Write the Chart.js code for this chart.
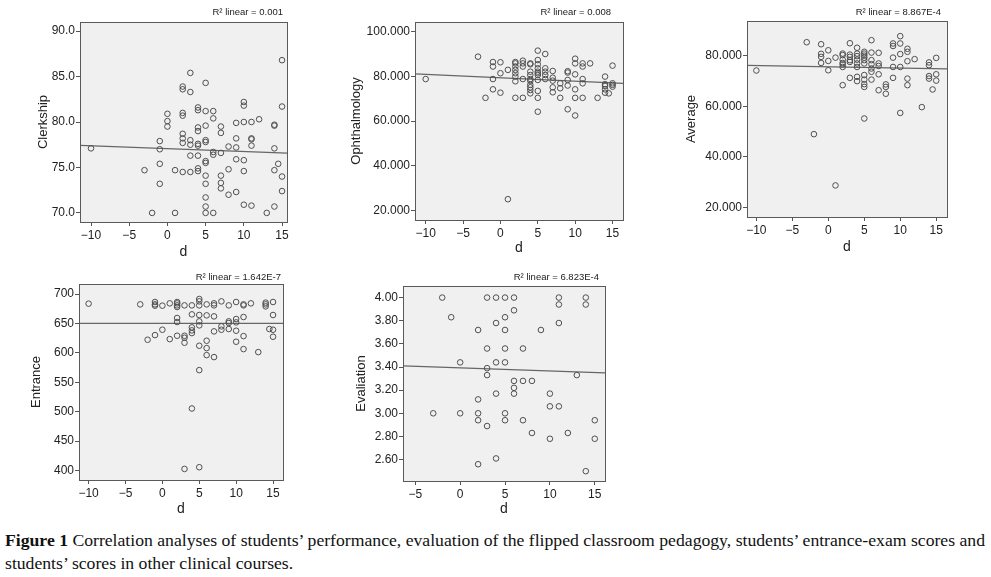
<!DOCTYPE html>
<html>
<head>
<meta charset="utf-8">
<script src="https://cdn.jsdelivr.net/npm/chart.js@4.4.1/dist/chart.umd.min.js"></script>
<style>
  body { margin: 0; background: #fff; width: 991px; height: 577px; overflow: hidden; position: relative; }
  canvas { position: absolute; }
  #caption { position: absolute; left: 5px; top: 529px; font-family: "Liberation Serif", serif; font-size: 16px; line-height: 23px; color: #111; }
  #caption div { white-space: nowrap; height: 23px; }
  #caption span { display: inline-block; transform-origin: 0 0; }
</style>
</head>
<body>
<canvas id="clerkshipChart" width="330" height="262" style="left:0;top:0"></canvas>
<canvas id="ophthalChart" width="330" height="262" style="left:330px;top:0"></canvas>
<canvas id="averageChart" width="331" height="262" style="left:660px;top:0"></canvas>
<canvas id="entranceChart" width="330" height="258" style="left:0;top:262px"></canvas>
<canvas id="evalChart" width="330" height="258" style="left:330px;top:262px"></canvas>
<div id="caption">
  <div><span class="cap"><b>Figure 1</b> Correlation analyses of students’ performance, evaluation of the flipped classroom pedagogy, students’ entrance-exam scores and</span></div>
  <div><span class="cap">students’ scores in other clinical courses.</span></div>
</div>
<script>
// tick labels
const xTicksWide = [-10, -5, 0, 5, 10, 15];
const xTicksEval = [-5, 0, 5, 10, 15];
const clerkshipTicks = [70, 75, 80, 85, 90];
const ophthalTicks = [20, 40, 60, 80, 100];
const averageTicks = [20, 40, 60, 80];
const entranceTicks = [400, 450, 500, 550, 600, 650, 700];
const evalTicks = [2.6, 2.8, 3.0, 3.2, 3.4, 3.6, 3.8, 4.0];

// Clerkship vs d
const clerkshipD = [-10, -3, -2, -1, -1, -1, -1, 0, 0, 0, 1, 1,
  2, 2, 2, 2, 2, 2, 2, 2,
  3, 3, 3, 3, 3, 3,
  4, 4, 4, 4, 4, 4, 4, 4, 4,
  5, 5, 5, 5, 5, 5, 5, 5, 5, 5, 5, 5,
  6, 6, 6, 6, 6,
  7, 7, 7, 7, 7, 7,
  8, 8, 8,
  9, 9, 9, 9, 9,
  10, 10, 10, 10, 10, 10,
  11, 11, 11, 11, 11,
  12, 13,
  14, 14, 14, 14, 14, 14.5,
  15, 15, 15, 15];
const clerkshipScore = [77.1, 74.7, 70.0, 77.9, 77.0, 75.4, 73.2, 80.9, 80.1, 79.5, 74.7, 70.0,
  83.9, 83.6, 81.0, 80.7, 78.7, 78.2, 77.7, 74.5,
  85.4, 83.3, 78.0, 77.5, 76.3, 74.5,
  81.6, 81.3, 79.4, 79.0, 77.6, 77.4, 76.3, 74.9, 74.6,
  84.3, 81.2, 79.6, 78.0, 77.8, 75.7, 75.5, 74.1, 73.2, 71.7, 70.7, 70.0,
  81.2, 80.4, 76.7, 76.4, 70.0,
  79.5, 78.8, 76.6, 74.1, 73.3, 72.7,
  77.3, 74.8, 72.0,
  79.9, 78.2, 77.2, 75.9, 72.3,
  82.2, 81.8, 80.0, 75.8, 74.6, 70.9,
  80.0, 78.2, 78.1, 77.4, 70.8,
  80.3, 70.0,
  79.7, 79.6, 77.1, 74.7, 70.7, 75.4,
  86.8, 81.7, 74.0, 72.4];

// Ophthalmology vs d
const ophthalD = [-10, -3, -2, -1, -1, -1, -1, 0, 0, 0, 1, 1,
  2, 2, 2, 2, 2, 2, 2, 2,
  3, 3, 3, 3, 3,
  4, 4, 4, 4, 4, 4, 4, 4, 4, 4,
  5, 5, 5, 5, 5, 5, 5, 5, 5, 5, 5,
  6, 6, 6, 6, 6,
  7, 7, 7, 7, 7,
  8, 8, 8,
  9, 9, 9, 9, 9,
  10, 10, 10, 10, 10, 10,
  11, 11, 11, 11, 11,
  12, 13,
  14, 14, 14, 14, 14, 14.5,
  15, 15, 15, 15];
const ophthalScore = [78.8, 88.8, 70.4, 86.4, 84.4, 78.8, 74.2, 86.3, 81.4, 72.7, 82.9, 25.1,
  86.4, 85.8, 84.4, 82.9, 81.4, 79.9, 77.8, 70.4,
  87.0, 85.8, 84.4, 78.8, 70.4,
  85.8, 85.4, 82.1, 80.6, 78.8, 78.0, 76.2, 75.1, 73.9, 72.4,
  91.5, 87.3, 85.4, 83.6, 82.1, 81.4, 80.6, 78.4, 73.5, 70.4, 64.2,
  90.0, 83.6, 82.1, 80.6, 78.8,
  82.4, 79.4, 78.1, 75.1, 72.9,
  76.9, 74.7, 70.4,
  82.3, 81.7, 78.4, 75.9, 65.3,
  87.9, 85.8, 80.9, 74.2, 70.4, 62.5,
  85.8, 84.4, 78.8, 76.9, 70.4,
  85.8, 70.4,
  79.9, 76.5, 75.7, 74.2, 72.7, 72.4,
  84.8, 76.9, 76.2, 75.4];

// Average vs d
const averageD = [-10, -3, -2, -1, -1, -1, -1, 0, 0, 0, 1, 1,
  2, 2, 2, 2, 2, 2, 2,
  3, 3, 3, 3, 3, 3,
  4, 4, 4, 4, 4, 4, 4, 4,
  5, 5, 5, 5, 5, 5, 5, 5, 5, 5, 5,
  6, 6, 6, 6, 6, 6, 6,
  7, 7, 7, 7, 7,
  8, 8, 8,
  9, 9, 9, 9, 9,
  10, 10, 10, 10, 10,
  11, 11, 11, 11, 11,
  12, 13,
  14, 14, 14, 14, 14.5,
  15, 15, 15];
const averageScore = [74.2, 85.4, 49.0, 84.6, 80.8, 79.6, 77.2, 82.2, 78.0, 74.3, 79.3, 28.7,
  80.9, 80.3, 78.5, 77.2, 76.6, 75.6, 68.4,
  85.0, 80.5, 79.6, 78.3, 77.6, 71.3,
  83.2, 80.9, 79.9, 78.5, 77.0, 75.6, 71.7, 70.0,
  81.6, 80.9, 80.1, 79.3, 78.3, 77.0, 72.4, 70.6, 68.8, 67.7, 55.2,
  86.2, 81.3, 78.3, 76.7, 75.0, 73.7, 70.6,
  81.2, 77.0, 76.0, 72.7, 66.4,
  68.7, 67.7, 65.0,
  84.9, 83.9, 79.3, 75.6, 71.3,
  87.8, 84.9, 80.7, 75.6, 57.4,
  82.8, 81.6, 77.9, 71.0, 68.4,
  78.7, 59.7,
  77.4, 76.3, 72.0, 71.0, 66.7,
  79.2, 72.7, 70.2];

// Entrance vs d
const entranceD = [-10, -3, -2, -1, -1, -1, -1, 0, 0, 1, 1,
  2, 2, 2, 2, 2, 2, 2,
  3, 3, 3, 3, 3,
  4, 4, 4, 4, 4, 4,
  5, 5, 5, 5, 5, 5, 5, 5, 5,
  6, 6, 6, 6, 6,
  7, 7, 7, 7, 7,
  8, 8, 8,
  9, 9, 9, 9,
  10, 10, 10, 10, 10,
  11, 11, 11, 11, 11,
  12, 13,
  14, 14, 14, 14.5,
  15, 15, 15, 15];
const entranceScore = [683.6, 682.4, 622.3, 686.4, 682.4, 680.2, 630.2, 680.2, 639.3, 684.1, 623.4,
  686.4, 684.1, 680.7, 677.9, 659.2, 652.4, 629.1,
  680.7, 629.1, 625.7, 617.2, 402.8,
  680.7, 665.4, 643.3, 638.2, 633.6, 505.5,
  691.5, 687.5, 680.7, 664.3, 653.5, 646.7, 612.1, 570.7, 405.7,
  682.4, 663.7, 620.6, 608.1, 596.2,
  684.1, 680.7, 662.0, 636.5, 592.8,
  687.5, 645.0, 639.3,
  680.7, 653.5, 650.7, 640.5,
  686.4, 657.5, 651.8, 637.6, 618.9,
  682.4, 680.7, 660.9, 628.5, 606.4,
  684.1, 601.3,
  685.3, 682.4, 679.0, 640.5,
  686.4, 664.3, 639.3, 627.4];

// Evaliation vs d
const evalD = [-3, -2, -1, 0, 0,
  2, 2, 2, 2, 2,
  3, 3, 3, 3, 3,
  4, 4, 4, 4, 4,
  5, 5, 5, 5, 5, 5, 5,
  6, 6, 6, 6, 6,
  7, 7, 7,
  8, 8, 9,
  10, 10, 10,
  11, 11, 11, 11,
  12, 13,
  14, 14, 14,
  15, 15];
const evalScore = [3.00, 4.00, 3.83, 3.44, 3.00,
  3.72, 3.12, 3.00, 2.94, 2.56,
  4.00, 3.56, 3.39, 3.33, 2.89,
  4.00, 3.78, 3.44, 3.17, 2.61,
  4.00, 3.83, 3.72, 3.56, 3.44, 3.00, 2.94,
  4.00, 3.89, 3.28, 3.22, 3.17,
  3.56, 3.28, 2.94,
  3.28, 2.83, 3.72,
  3.17, 3.06, 2.78,
  4.00, 3.94, 3.78, 3.06,
  2.83, 3.33,
  4.00, 3.94, 2.50,
  2.94, 2.78];

// fit lines [intercept, slope]
const clerkshipFit = [77.07, -0.031];
const ophthalFit = [79.4, -0.152];
const averageFit = [75.7, -0.05];
const entranceFit = [650.1, 0];
const evalFit = [3.393, -0.0027];

const r2Labels = ['R² linear = 0.001', 'R² linear = 0.008', 'R² linear = 8.867E-4', 'R² linear = 1.642E-7', 'R² linear = 6.823E-4'];

const sans = 'Liberation Sans';

// grey plot box + R² note
const panelFrame = {
  id: 'panelFrame',
  beforeDraw(chart) {
    const a = chart.chartArea, ctx = chart.ctx;
    ctx.save();
    ctx.fillStyle = '#f0f0f0';
    ctx.fillRect(a.left, a.top, a.right - a.left, a.bottom - a.top);
    ctx.restore();
  },
  afterDraw(chart, args, opts) {
    const a = chart.chartArea, ctx = chart.ctx;
    ctx.save();
    ctx.strokeStyle = '#5a5a5a';
    ctx.lineWidth = 1;
    ctx.strokeRect(Math.round(a.left) + 0.5, Math.round(a.top) + 0.5, Math.round(a.right - a.left), Math.round(a.bottom - a.top));
    ctx.fillStyle = '#222';
    ctx.font = '9.5px "' + sans + '"';
    ctx.textAlign = 'right';
    ctx.textBaseline = 'middle';
    ctx.fillText(opts.label, a.right - opts.shift, opts.y);
    ctx.restore();
  }
};

function scatterPanel(id, p) {
  const points = p.d.map((d, i) => ({ x: d, y: p.score[i] }));
  const fitLine = [p.xMin, p.xMax].map(x => ({ x: x, y: p.fit[0] + p.fit[1] * x }));
  return new Chart(document.getElementById(id), {
    type: 'scatter',
    data: {
      datasets: [{
        data: points,
        pointStyle: 'circle',
        pointRadius: 2.8,
        pointHoverRadius: 2.8,
        backgroundColor: 'rgba(0,0,0,0)',
        borderColor: '#505050',
        borderWidth: 1
      }, {
        type: 'line',
        data: fitLine,
        borderColor: '#666',
        borderWidth: 1.2,
        pointRadius: 0,
        fill: false
      }]
    },
    options: {
      responsive: false,
      animation: false,
      events: [],
      layout: { padding: { top: p.padTop, right: p.padRight, left: 0, bottom: 0 } },
      plugins: {
        legend: { display: false },
        tooltip: { enabled: false },
        panelFrame: { label: p.r2, shift: p.labelShift, y: p.labelY }
      },
      scales: {
        x: {
          type: 'linear',
          min: p.xMin,
          max: p.xMax,
          afterBuildTicks: s => { s.ticks = p.xTicks.map(v => ({ value: v })); },
          afterFit: s => { s.height = p.xAxisH; },
          grid: { drawOnChartArea: false, drawTicks: true, tickLength: 4, color: '#555' },
          border: { display: false },
          ticks: {
            color: '#222',
            font: { family: sans, size: 12 },
            padding: 2,
            maxRotation: 0,
            callback: v => v < 0 ? '\u2212' + Math.abs(v) : String(v)
          },
          title: { display: true, text: 'd', color: '#222', font: { family: sans, size: 14 }, padding: { top: 0, bottom: p.dPad } }
        },
        y: {
          type: 'linear',
          min: p.yMin,
          max: p.yMax,
          afterBuildTicks: s => { s.ticks = p.yTicks.map(v => ({ value: v })); },
          afterFit: s => { s.width = p.yAxisW; },
          grid: { drawOnChartArea: false, drawTicks: true, tickLength: 4, color: '#555' },
          border: { display: false },
          ticks: {
            color: '#222',
            font: { family: sans, size: 12 },
            padding: 1,
            callback: v => v.toFixed(p.decimals)
          },
          title: { display: true, text: p.yTitle, color: '#222', font: { family: sans, size: 13 }, padding: { top: p.yTitlePad, bottom: 0 } }
        }
      }
    },
    plugins: [panelFrame]
  });
}

scatterPanel('clerkshipChart', {
  d: clerkshipD, score: clerkshipScore, fit: clerkshipFit, r2: r2Labels[0], yTitle: 'Clerkship',
  xTicks: xTicksWide, yTicks: clerkshipTicks, decimals: 1,
  xMin: -11.44, xMax: 15.65, yMin: 69, yMax: 91,
  padTop: 22, padRight: 43, yAxisW: 80, xAxisH: 40, yTitlePad: 36, dPad: 1, labelShift: 4, labelY: 12
});

scatterPanel('ophthalChart', {
  d: ophthalD, score: ophthalScore, fit: ophthalFit, r2: r2Labels[1], yTitle: 'Ophthalmology',
  xTicks: xTicksWide, yTicks: ophthalTicks, decimals: 3,
  xMin: -11.43, xMax: 16.4, yMin: 15.8, yMax: 104.3,
  padTop: 22, padRight: 37, yAxisW: 85, xAxisH: 42, yTitlePad: 19, dPad: 5.6, labelShift: 12, labelY: 12
});

scatterPanel('averageChart', {
  d: averageD, score: averageScore, fit: averageFit, r2: r2Labels[2], yTitle: 'Average',
  xTicks: xTicksWide, yTicks: averageTicks, decimals: 3,
  xMin: -11.3, xMax: 16.5, yMin: 16.2, yMax: 93.8,
  padTop: 21, padRight: 44, yAxisW: 87, xAxisH: 45, yTitlePad: 24, dPad: 6.6, labelShift: 6, labelY: 12
});

scatterPanel('entranceChart', {
  d: entranceD, score: entranceScore, fit: entranceFit, r2: r2Labels[3], yTitle: 'Entrance',
  xTicks: xTicksWide, yTicks: entranceTicks, decimals: 0,
  xMin: -11.3, xMax: 16.35, yMin: 384, yMax: 717,
  padTop: 22, padRight: 47, yAxisW: 79, xAxisH: 40, yTitlePad: 29, dPad: 2.6, labelShift: 2, labelY: 15
});

scatterPanel('evalChart', {
  d: evalD, score: evalScore, fit: evalFit, r2: r2Labels[4], yTitle: 'Evaliation',
  xTicks: xTicksEval, yTicks: evalTicks, decimals: 2,
  xMin: -6.37, xMax: 16.14, yMin: 2.415, yMax: 4.10,
  padTop: 24, padRight: 55, yAxisW: 73, xAxisH: 39, yTitlePad: 24, dPad: 2.6, labelShift: 6, labelY: 15
});

// squeeze the caption to the same line width as the figure
const capSpans = document.querySelectorAll('#caption .cap');
const capScale = 980 / capSpans[0].getBoundingClientRect().width;
capSpans.forEach(el => { el.style.transform = 'scaleX(' + capScale + ')'; });
</script>
</body>
</html>
